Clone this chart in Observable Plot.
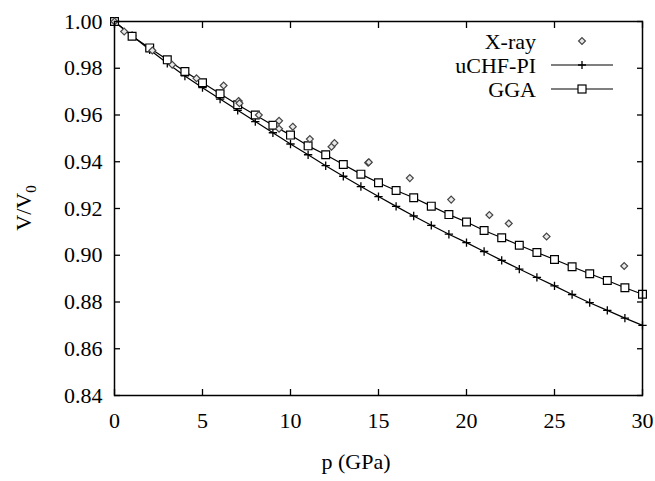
<!DOCTYPE html>
<html><head><meta charset="utf-8">
<script src="https://cdn.jsdelivr.net/npm/d3@7"></script>
<script src="https://cdn.jsdelivr.net/npm/@observablehq/plot@0.6"></script>
<style>
body{margin:0;background:#fff;}
</style></head><body><div id="wrap"></div>
<script>
const pressure = [0,1,2,3,4,5,6,7,8,9,10,11,12,13,14,15,16,17,18,19,20,21,22,23,24,25,26,27,28,29,30];
const uchfValues = [1.0000,0.9939,0.9879,0.9821,0.9767,0.9717,0.9668,0.9620,0.9572,0.9524,
  0.9476,0.9430,0.9383,0.9338,0.9294,0.9251,0.9209,0.9168,0.9128,0.9090,
  0.9054,0.9016,0.8978,0.8941,0.8905,0.8869,0.8832,0.8797,0.8764,0.8731,0.8700];
const ggaValues = [1.0000,0.9937,0.9887,0.9836,0.9786,0.9738,0.9691,0.9644,0.9600,0.9556,
  0.9514,0.9468,0.9430,0.9388,0.9347,0.9310,0.9277,0.9246,0.9210,0.9174,
  0.9142,0.9106,0.9075,0.9043,0.9012,0.8982,0.8951,0.8921,0.8892,0.8861,0.8833];
const xrayPressure = [0,0.55,2.15,3.28,4.66,6.2,7.05,7.1,8.2,9.35,9.35,10.13,11.1,12.33,12.5,14.41,14.45,16.78,19.13,21.3,22.4,24.55,28.96];
const xrayValues = [1.0,0.9957,0.9876,0.9815,0.9757,0.9726,0.9660,0.9650,0.9600,0.9575,0.9541,0.9550,0.9497,0.9464,0.9480,0.9396,0.9398,0.9330,0.9238,0.9172,0.9136,0.9080,0.8954];
const xTicks = [0,5,10,15,20,25,30];
const yTicks = [0.84,0.86,0.88,0.90,0.92,0.94,0.96,0.98,1.00];
const seriesNames = ["X-ray","uCHF-PI","GGA"];

const uchf = pressure.map((p,i)=>({p, v:uchfValues[i]}));
const gga = pressure.map((p,i)=>({p, v:ggaValues[i]}));
const xray = xrayPressure.map((p,i)=>({p, v:xrayValues[i]}));

const font = "Liberation Serif";
const plot = Plot.plot({
  width: 655, height: 481,
  marginLeft: 114, marginRight: 13, marginTop: 21, marginBottom: 86,
  style: {fontFamily: font, fontSize: "22px"},
  x: {domain: [0,30]},
  y: {domain: [0.84,1.00]},
  marks: [
    Plot.axisX({ticks: xTicks, tickSize: -6, tickPadding: 23, tickFormat: d=>String(d), label: null, strokeWidth: 1.3}),
    Plot.axisX({anchor: "top", ticks: xTicks, tickSize: -6, tickFormat: () => "", label: null, strokeWidth: 1.3}),
    Plot.axisY({ticks: yTicks, tickSize: -6, tickPadding: 18, tickFormat: d3.format(".2f"), label: null, strokeWidth: 1.3}),
    Plot.axisY({anchor: "right", ticks: yTicks, tickSize: -6, tickFormat: () => "", label: null, strokeWidth: 1.3}),
    Plot.line(uchf, {x: "p", y: "v", stroke: "#000", strokeWidth: 1.2}),
    Plot.line(gga, {x: "p", y: "v", stroke: "#000", strokeWidth: 1.2}),
    Plot.dot(uchf, {x: "p", y: "v", symbol: "plus", r: 2.8, stroke: "#000", strokeWidth: 1.3}),
    Plot.dot(gga, {x: "p", y: "v", symbol: "square", r: 4.4, fill: "#fff", stroke: "#000", strokeWidth: 1.2}),
    Plot.dot(xray, {x: "p", y: "v", symbol: "diamond2", r: 3.1, fill: "#e8e8e8", stroke: "#444", strokeWidth: 1.2}),
    Plot.frame({stroke: "#000", strokeWidth: 1.5})
  ]
});
document.getElementById("wrap").appendChild(plot);

const svg = d3.select(plot);
// axis titles
svg.append("text").attr("x", 356).attr("y", 469).attr("text-anchor", "middle")
  .attr("font-family", font).attr("font-size", 22).text("p (GPa)");
const yl = svg.append("text").attr("transform", "translate(31,208) rotate(-90)").attr("text-anchor", "middle")
  .attr("font-family", font).attr("font-size", 22);
yl.append("tspan").text("V/V");
yl.append("tspan").attr("font-size", 15).attr("dy", 5).text("0");

// legend
const lg = svg.append("g").attr("font-family", font).attr("font-size", 22);
const rows = [{y: 41}, {y: 65}, {y: 89}];
seriesNames.forEach((name, i) => {
  lg.append("text").attr("x", 536).attr("y", rows[i].y).attr("dy", "0.35em").attr("text-anchor", "end").text(name);
});
lg.append("path").attr("d", d3.symbol(d3.symbolDiamond2, 30)()).attr("transform", "translate(582,41)")
  .attr("fill", "#e8e8e8").attr("stroke", "#444").attr("stroke-width", 1.2);
lg.append("line").attr("x1", 551).attr("x2", 613).attr("y1", 65).attr("y2", 65).attr("stroke", "#000").attr("stroke-width", 1.2);
lg.append("path").attr("d", "M582,61V69M578,65H586").attr("stroke", "#000").attr("stroke-width", 1.3);
lg.append("line").attr("x1", 551).attr("x2", 613).attr("y1", 89).attr("y2", 89).attr("stroke", "#000").attr("stroke-width", 1.2);
lg.append("rect").attr("x", 578).attr("y", 85).attr("width", 8).attr("height", 8).attr("fill", "#fff").attr("stroke", "#000").attr("stroke-width", 1.2);
</script>
</body></html>
